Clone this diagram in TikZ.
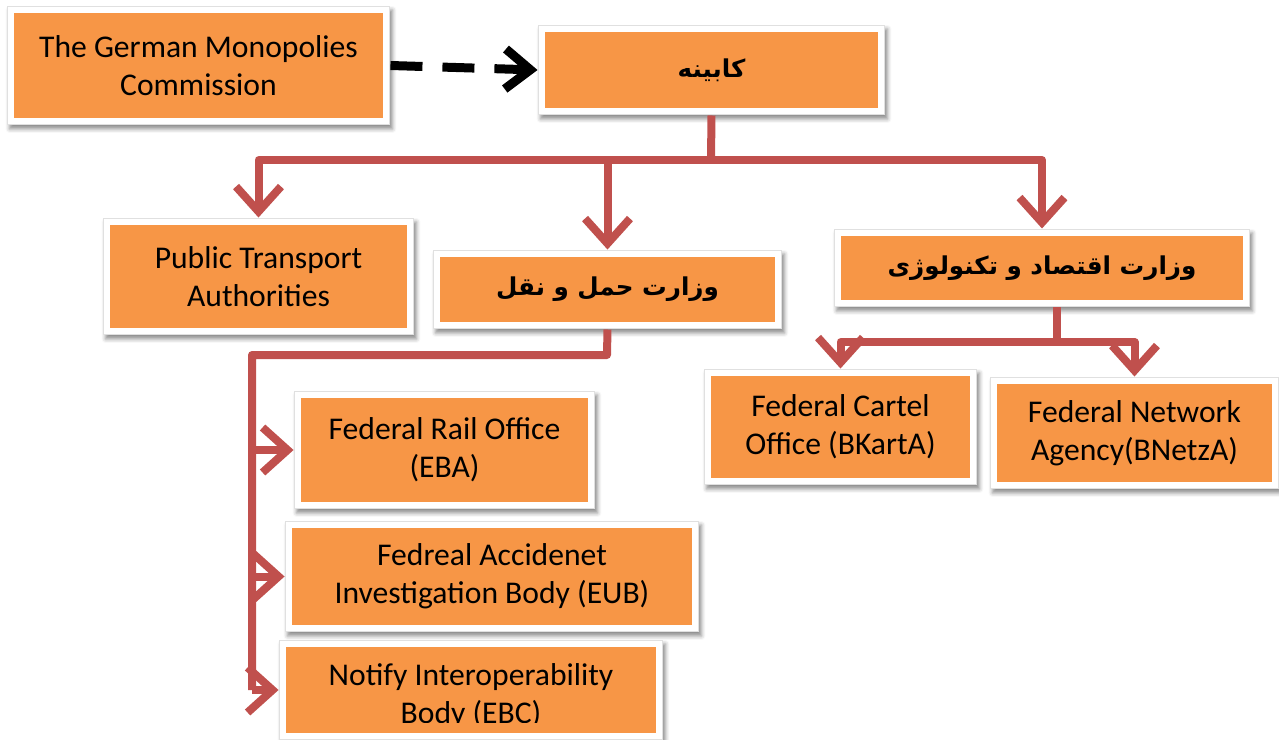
\documentclass[tikz,border=0pt]{standalone}
\usepackage{fontspec}
\setmainfont{Carlito}
\newfontfamily\farsi[Script=Arabic]{DejaVu Sans}
\TeXXeTstate=1
\usetikzlibrary{arrows.meta,shadows.blur}

\definecolor{boxorange}{HTML}{F79646}
\definecolor{linkred}{HTML}{C0504D}

\tikzset{
  % white frame with shadow, orange panel inside
  box/.style={fill=white, draw=black!12, line width=0.02cm, align=center, inner sep=0pt,
    blur shadow={shadow xshift=0.05cm, shadow yshift=-0.08cm, shadow blur radius=0.08cm, shadow opacity=45},
    path picture={\fill[boxorange] ([shift={(0.14cm,-0.14cm)}]path picture bounding box.north west)
      rectangle ([shift={(-0.14cm,0.14cm)}]path picture bounding box.south east);},
    font=\fontsize{18}{21.6}\selectfont},
  fabox/.style={box, font=\farsi\bfseries\fontsize{14}{17}\selectfont},
  link/.style={draw=linkred, line width=0.16cm, line join=round},
  linkarrow/.style={link, -{Straight Barb[length=0.5cm,width=0.9cm]}},
  dasharrow/.style={draw=black, line width=0.18cm, dash pattern=on 0.64cm off 0.4cm,
    -{Straight Barb[length=0.5cm,width=0.8cm]}},
}

\begin{document}
\begin{tikzpicture}[x=0.02cm,y=-0.02cm]
  \useasboundingbox (0,0) rectangle (1279,740);

  % top row
  \node[box, minimum width=7.66cm, minimum height=2.38cm] (gmc) at (198.5,65.5) {The German Monopolies\\Commission};
  \node[fabox, minimum width=6.94cm, minimum height=1.80cm] (cab) at (711.5,70) {\beginR کابینه\endR};

  % ministries
  \node[box, minimum width=6.22cm, minimum height=2.34cm] (pta) at (258.5,276.5) {Public Transport\\Authorities};
  \node[fabox, minimum width=6.98cm, minimum height=1.58cm] (mot) at (607.5,289.5) {\beginR وزارت حمل و نقل\endR};
  \node[fabox, minimum width=8.32cm, minimum height=1.56cm] (eco) at (1042,268) {\beginR وزارت اقتصاد و تکنولوژی\endR};

  % agencies
  \node[box, minimum width=6.02cm, minimum height=2.36cm] (eba) at (444.5,450) {Federal Rail Office\\(EBA)};
  \node[box, minimum width=8.28cm, minimum height=2.22cm] (eub) at (492,576.5) {Fedreal Accidenet\\Investigation Body (EUB)};
  \node[box, minimum width=7.68cm, minimum height=2.00cm] (ebc) at (471,690) {};
  \begin{scope}
    \clip (280,640) rectangle (660,722);
    \node[font=\fontsize{18}{21.6}\selectfont, align=center] (ebclabel) at (471,696) {Notify Interoperability\\Body (EBC)};
  \end{scope}
  \node[box, minimum width=5.46cm, minimum height=2.32cm] (bka) at (840.5,427) {Federal Cartel\\Office (BKartA)};
  \node[box, minimum width=5.78cm, minimum height=2.24cm] (bna) at (1134.5,433) {Federal Network\\Agency(BNetzA)};

  % junctions
  \coordinate (bus) at (711,160);
  \coordinate (rail) at (607,355);
  \coordinate (railturn) at (252,355);
  \coordinate (railend) at (252,690);
  \coordinate (ecobus) at (1057,342);

  \draw[dasharrow] (gmc.east) -- (cab.west);

  \draw[link] (cab.south) -- (bus);
  \draw[linkarrow] (bus) -| (pta.north);
  \draw[linkarrow] (bus) -| (mot.north);
  \draw[linkarrow] (bus) -| (eco.north);

  \draw[link] (mot.south) -- (rail) -- (railturn) -- (railend);
  \draw[linkarrow] (railturn |- eba.west) -- (eba.west);
  \draw[linkarrow] (railturn |- eub.west) -- (eub.west);
  \draw[linkarrow] (railturn |- ebc.west) -- (ebc.west);

  \draw[link] (ecobus |- eco.south) -- (ecobus);
  \draw[linkarrow] (ecobus) -| (bka.north);
  \draw[linkarrow] (ecobus) -| (bna.north);
\end{tikzpicture}
\end{document}
